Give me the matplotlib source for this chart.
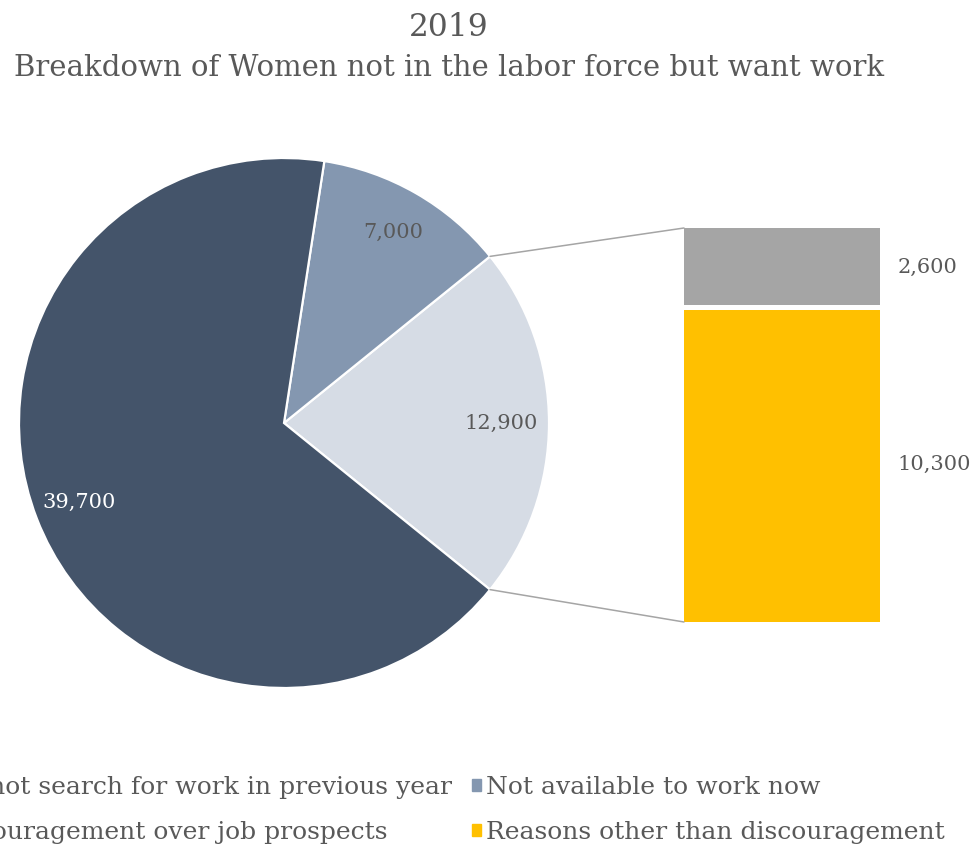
import numpy as np
import matplotlib.pyplot as plt
from matplotlib.patches import Patch, ConnectionPatch

plt.rcParams['font.family'] = ['DejaVu Serif']

# pie: main breakdown
pie_labels = ['Reasons for not wanting/able', 'Not available to work now', 'Did not search for work in previous year']
pie_values = [12900, 7000, 39700]
pie_colors = ['#d6dce5', '#8497b0', '#44546a']

# stacked bar: split of the 12,900 slice
bar_labels = ['Reasons other than discouragement', 'Discouragement over job prospects']
bar_values = [10300, 2600]
bar_colors = ['#ffc000', '#a5a5a5']

txt = '#595959'

fig = plt.figure(figsize=(9.76, 8.56), dpi=100)
ax = fig.add_axes([0, 0, 1, 1])

cx, cy, r = 284, 856 - 423, 265
start = -pie_values[0] / sum(pie_values) * 360 / 2
wedges, _ = ax.pie(pie_values, colors=pie_colors, startangle=start, counterclock=True,
                   center=(cx, cy), radius=r,
                   wedgeprops=dict(edgecolor='white', linewidth=1.6))
ax.set_xlim(0, 976)
ax.set_ylim(0, 856)
ax.set_aspect('equal')
ax.axis('off')

label_dist = [0.82, 0.83, 0.83]
label_col = [txt, txt, 'white']
for w, v, d, c in zip(wedges, pie_values, label_dist, label_col):
    mid = np.deg2rad((w.theta1 + w.theta2) / 2)
    ax.text(cx + d * r * np.cos(mid), cy + d * r * np.sin(mid), f'{v:,}',
            ha='center', va='center', fontsize=15, color=c)

# bar of pie
ax2 = fig.add_axes([684 / 976, (856 - 622) / 856, 196 / 976, 394 / 856])
bottom = 0
for v, c in zip(bar_values, bar_colors):
    ax2.bar(0, v, bottom=bottom, width=1, color=c)
    ax2.text(0.59, bottom + v / 2, f'{v:,}', ha='left', va='center',
             fontsize=15, color=txt, clip_on=False)
    bottom += v
ax2.axhline(bar_values[0], color='white', lw=3.6)
ax2.set_xlim(-0.5, 0.5)
ax2.set_ylim(0, sum(bar_values))
ax2.axis('off')

# connector lines from the split slice to the bar
w = wedges[0]
for ang, yb in [(w.theta2, sum(bar_values)), (w.theta1, 0)]:
    a = np.deg2rad(ang)
    con = ConnectionPatch(xyA=(cx + r * np.cos(a), cy + r * np.sin(a)), coordsA=ax.transData,
                          xyB=(-0.5, yb), coordsB=ax2.transData,
                          color='#a5a5a5', lw=1.1)
    fig.add_artist(con)

fig.text(449 / 976, 1 - 27 / 856, '2019', ha='center', va='center', fontsize=22.5, color=txt)
fig.text(449 / 976, 1 - 68 / 856, 'Breakdown of Women not in the labor force but want work',
         ha='center', va='center', fontsize=21, color=txt)

handles = [Patch(color=pie_colors[2]), Patch(color=bar_colors[1]),
           Patch(color=pie_colors[1]), Patch(color=bar_colors[0])]
names = [pie_labels[2], bar_labels[1], pie_labels[1], bar_labels[0]]
fig.legend(handles, names, ncol=2, loc='center right', bbox_to_anchor=(945 / 976, 1 - 810 / 856),
           frameon=False, fontsize=18, labelcolor=txt, handlelength=0.36, handleheight=0.4,
           handletextpad=0.2, columnspacing=0.8, labelspacing=0.88,
           borderpad=0, borderaxespad=0)

fig.savefig('out.png', dpi=100)
